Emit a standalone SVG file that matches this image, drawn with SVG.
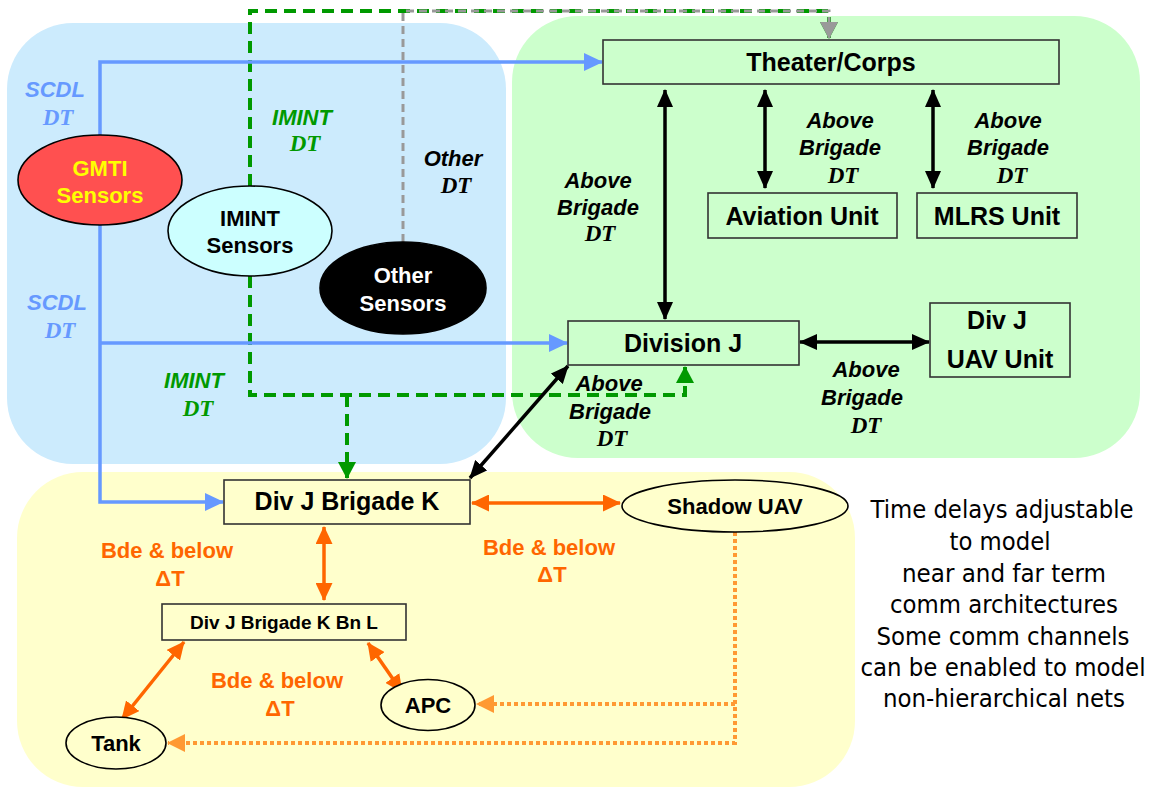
<svg xmlns="http://www.w3.org/2000/svg" width="1149" height="788" viewBox="0 0 1149 788">
  <style>
    .zone { stroke: none; }
    .box { stroke: #333333; stroke-width: 1.6; }
    .ell { stroke: #000000; stroke-width: 1.6; }
    .lbl { font-family: "Liberation Sans", Arial, sans-serif; font-weight: bold; text-anchor: middle; }
    .node { font-size: 25px; fill: #000000; }
    .small { font-size: 22px; }
    .it { font-family: "Liberation Sans", Arial, sans-serif; font-weight: bold; font-style: italic; font-size: 22px; text-anchor: middle; }
    .dt { font-family: "Liberation Serif", "Times New Roman", serif; font-weight: bold; font-style: italic; font-size: 23px; text-anchor: middle; }
    .blue { fill: #6699FF; }
    .green { fill: #009900; }
    .black { fill: #000000; }
    .orange { fill: #FF6600; }
    .note { font-family: "Liberation Sans Narrow", "DejaVu Sans Condensed", "Liberation Sans", sans-serif; font-size: 24px; fill: #000000; text-anchor: middle; }
    .c-blue { fill: none; stroke: #6699FF; stroke-width: 3.5; }
    .c-green { fill: none; stroke: #009900; stroke-width: 4; stroke-dasharray: 12 7; }
    .c-gray { fill: none; stroke: #999999; stroke-width: 3; stroke-dasharray: 8 5; }
    .c-black { fill: none; stroke: #000000; stroke-width: 3.5; }
    .c-orange { fill: none; stroke: #FF6600; stroke-width: 3.5; }
    .c-dot { fill: none; stroke: #FF9933; stroke-width: 4; stroke-dasharray: 4 3; }
  </style>
  <defs>
    <marker id="m-black" viewBox="0 0 18 16" refX="17" refY="8" markerWidth="18" markerHeight="16" markerUnits="userSpaceOnUse" orient="auto-start-reverse">
      <path d="M0,0 L18,8 L0,16 z" fill="#000000"/>
    </marker>
    <marker id="m-blue" viewBox="0 0 19 18" refX="18" refY="9" markerWidth="19" markerHeight="18" markerUnits="userSpaceOnUse" orient="auto">
      <path d="M0,0 L19,9 L0,18 z" fill="#6699FF"/>
    </marker>
    <marker id="m-green" viewBox="0 0 17 18" refX="16" refY="9" markerWidth="17" markerHeight="18" markerUnits="userSpaceOnUse" orient="auto">
      <path d="M0,0 L17,9 L0,18 z" fill="#009900"/>
    </marker>
    <marker id="m-gray" viewBox="0 0 17 18" refX="16" refY="9" markerWidth="17" markerHeight="18" markerUnits="userSpaceOnUse" orient="auto">
      <path d="M0,0 L17,9 L0,18 z" fill="#999999"/>
    </marker>
    <marker id="m-orange" viewBox="0 0 18 17" refX="17" refY="8.5" markerWidth="18" markerHeight="17" markerUnits="userSpaceOnUse" orient="auto-start-reverse">
      <path d="M0,0 L18,8.5 L0,17 z" fill="#FF6600"/>
    </marker>
    <marker id="m-ltorange" viewBox="0 0 18 18" refX="17" refY="9" markerWidth="18" markerHeight="18" markerUnits="userSpaceOnUse" orient="auto">
      <path d="M0,0 L18,9 L0,18 z" fill="#FF9933"/>
    </marker>
  </defs>

  <rect width="1149" height="788" fill="#FFFFFF"/>

  <!-- background zones -->
  <g id="zones">
    <rect id="zone-sensors" class="zone" x="7" y="23" width="499" height="441" rx="66" fill="#CCEBFD"/>
    <rect id="zone-above" class="zone" x="512" y="16" width="628" height="442" rx="66" fill="#CCFFCC"/>
    <rect id="zone-brigade" class="zone" x="17" y="472" width="838" height="315" rx="66" fill="#FFFFCC"/>
  </g>

  <!-- connectors -->
  <g id="connectors">
    <!-- IMINT feeds (dashed green) -->
    <path class="c-green" d="M250,186 V11 H829 V38" marker-end="url(#m-green)"/>
    <path class="c-green" d="M250,276 V395 H685 V367" marker-end="url(#m-green)"/>
    <path class="c-green" d="M347,395 V478" marker-end="url(#m-green)"/>
    <!-- other sensors feed (dashed gray) -->
    <path class="c-gray" d="M403,242 V11 H829 V38" marker-end="url(#m-gray)"/>
    <!-- SCDL feeds (blue) -->
    <path class="c-blue" d="M100,135 V62 H602" marker-end="url(#m-blue)"/>
    <path class="c-blue" d="M100,225 V502 H223" marker-end="url(#m-blue)"/>
    <path class="c-blue" d="M100,343 H567" marker-end="url(#m-blue)"/>
    <!-- above brigade links (black, two-way) -->
    <path class="c-black" d="M665,90 V319" marker-start="url(#m-black)" marker-end="url(#m-black)"/>
    <path class="c-black" d="M765,90 V188" marker-start="url(#m-black)" marker-end="url(#m-black)"/>
    <path class="c-black" d="M933,90 V188" marker-start="url(#m-black)" marker-end="url(#m-black)"/>
    <path class="c-black" d="M800,342 H929" marker-start="url(#m-black)" marker-end="url(#m-black)"/>
    <path class="c-black" d="M568,366 L470,478" marker-start="url(#m-black)" marker-end="url(#m-black)"/>
    <!-- brigade and below links (orange, two-way) -->
    <path class="c-orange" d="M472,503 H620" marker-start="url(#m-orange)" marker-end="url(#m-orange)"/>
    <path class="c-orange" d="M324,527 V600" marker-start="url(#m-orange)" marker-end="url(#m-orange)"/>
    <path class="c-orange" d="M184,642 L122,719" marker-start="url(#m-orange)" marker-end="url(#m-orange)"/>
    <path class="c-orange" d="M368,643 L402,692" marker-start="url(#m-orange)" marker-end="url(#m-orange)"/>
    <!-- non-hierarchical UAV channels (dotted) -->
    <path class="c-dot" d="M735,532 V743 H168" marker-end="url(#m-ltorange)"/>
    <path class="c-dot" d="M735,704 H477" marker-end="url(#m-ltorange)"/>
  </g>

  <!-- nodes -->
  <g id="gmti-sensors">
    <ellipse class="ell" cx="100" cy="180" rx="82" ry="45" fill="#FF5050"/>
    <text class="lbl small" x="100" y="176" fill="#FFFF00">GMTI</text>
    <text class="lbl small" x="100" y="203" fill="#FFFF00">Sensors</text>
  </g>
  <g id="imint-sensors">
    <ellipse class="ell" cx="250" cy="231" rx="82" ry="45" fill="#CCFFFF"/>
    <text class="lbl small" x="250" y="226">IMINT</text>
    <text class="lbl small" x="250" y="253">Sensors</text>
  </g>
  <g id="other-sensors">
    <ellipse class="ell" cx="403" cy="288" rx="83" ry="46" fill="#000000"/>
    <text class="lbl small" x="403" y="283" fill="#FFFFFF">Other</text>
    <text class="lbl small" x="403" y="311" fill="#FFFFFF">Sensors</text>
  </g>
  <g id="theater-corps">
    <rect class="box" x="603" y="40" width="456" height="44" fill="#CCFFCC"/>
    <text class="lbl node" x="831" y="71">Theater/Corps</text>
  </g>
  <g id="aviation-unit">
    <rect class="box" x="708" y="193" width="189" height="45" fill="#CCFFCC"/>
    <text class="lbl node" x="802" y="225">Aviation Unit</text>
  </g>
  <g id="mlrs-unit">
    <rect class="box" x="917" y="193" width="160" height="45" fill="#CCFFCC"/>
    <text class="lbl node" x="997" y="225">MLRS Unit</text>
  </g>
  <g id="division-j">
    <rect class="box" x="568" y="321" width="231" height="44" fill="#CCFFCC"/>
    <text class="lbl node" x="683" y="352">Division J</text>
  </g>
  <g id="div-j-uav-unit">
    <rect class="box" x="930" y="303" width="140" height="74" fill="#CCFFCC"/>
    <text class="lbl node" x="997" y="329">Div J</text>
    <text class="lbl node" x="1000" y="368">UAV Unit</text>
  </g>
  <g id="div-j-brigade-k">
    <rect class="box" x="224" y="480" width="246" height="44" fill="#FFFFCC"/>
    <text class="lbl node" x="347" y="510">Div J Brigade K</text>
  </g>
  <g id="shadow-uav">
    <ellipse class="ell" cx="735" cy="506" rx="113" ry="26" fill="#FFFFCC"/>
    <text class="lbl small" x="735" y="514">Shadow UAV</text>
  </g>
  <g id="div-j-brigade-k-bn-l">
    <rect class="box" x="162" y="604" width="244" height="36" fill="#FFFFCC"/>
    <text class="lbl" x="284" y="629" font-size="19">Div J Brigade K Bn L</text>
  </g>
  <g id="apc">
    <ellipse class="ell" cx="428" cy="705" rx="47" ry="25.5" fill="#FFFFCC"/>
    <text class="lbl small" x="428" y="713">APC</text>
  </g>
  <g id="tank">
    <ellipse class="ell" cx="116" cy="743" rx="50" ry="26" fill="#FFFFCC"/>
    <text class="lbl small" x="116" y="751">Tank</text>
  </g>

  <!-- connector labels -->
  <g id="labels">
    <text class="it blue" x="55" y="97">SCDL</text>
    <text class="dt blue" x="58" y="125">DT</text>
    <text class="it blue" x="57" y="310">SCDL</text>
    <text class="dt blue" x="60" y="338">DT</text>

    <text class="it green" x="302" y="125">IMINT</text>
    <text class="dt green" x="305" y="151">DT</text>
    <text class="it green" x="194" y="388">IMINT</text>
    <text class="dt green" x="198" y="416">DT</text>

    <text class="it black" x="453" y="166">Other</text>
    <text class="dt black" x="456" y="193">DT</text>

    <text class="it black" x="598" y="188">Above</text>
    <text class="it black" x="598" y="215">Brigade</text>
    <text class="dt black" x="600" y="241">DT</text>

    <text class="it black" x="840" y="128">Above</text>
    <text class="it black" x="840" y="155">Brigade</text>
    <text class="dt black" x="843" y="183">DT</text>

    <text class="it black" x="1008" y="128">Above</text>
    <text class="it black" x="1008" y="155">Brigade</text>
    <text class="dt black" x="1012" y="183">DT</text>

    <text class="it black" x="609" y="391">Above</text>
    <text class="it black" x="610" y="419">Brigade</text>
    <text class="dt black" x="612" y="446">DT</text>

    <text class="it black" x="866" y="377">Above</text>
    <text class="it black" x="862" y="405">Brigade</text>
    <text class="dt black" x="866" y="433">DT</text>

    <text class="lbl small orange" x="167" y="558">Bde &amp; below</text>
    <text class="lbl small orange" x="170" y="586">ΔT</text>
    <text class="lbl small orange" x="549" y="555">Bde &amp; below</text>
    <text class="lbl small orange" x="552" y="582">ΔT</text>
    <text class="lbl small orange" x="277" y="688">Bde &amp; below</text>
    <text class="lbl small orange" x="280" y="716">ΔT</text>
  </g>

  <!-- side note -->
  <g id="note">
    <text class="note" x="1002" y="518" textLength="263" lengthAdjust="spacingAndGlyphs">Time delays adjustable</text>
    <text class="note" x="1000" y="550" textLength="101" lengthAdjust="spacingAndGlyphs">to model</text>
    <text class="note" x="1004" y="582" textLength="204" lengthAdjust="spacingAndGlyphs">near and far term</text>
    <text class="note" x="1004" y="613" textLength="228" lengthAdjust="spacingAndGlyphs">comm architectures</text>
    <text class="note" x="1003" y="645" textLength="253" lengthAdjust="spacingAndGlyphs">Some comm channels</text>
    <text class="note" x="1003" y="676" textLength="285" lengthAdjust="spacingAndGlyphs">can be enabled to model</text>
    <text class="note" x="1004" y="707" textLength="242" lengthAdjust="spacingAndGlyphs">non-hierarchical nets</text>
  </g>
</svg>
